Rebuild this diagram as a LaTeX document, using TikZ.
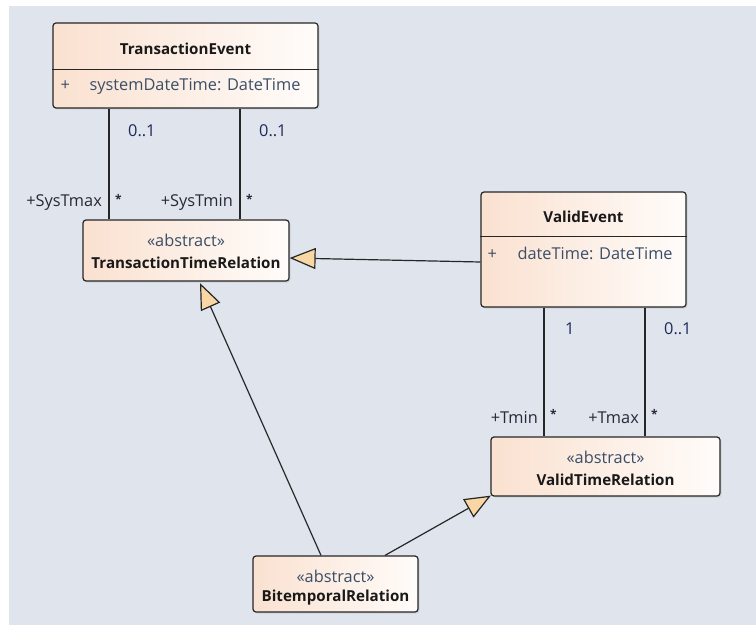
\documentclass[tikz,border=0pt]{standalone}
\usepackage{fontspec}
\setmainfont{Open Sans}
\usepackage{tikz}
\usetikzlibrary{calc}
\usetikzlibrary{shadows}
\usetikzlibrary{arrows.meta}
\definecolor{canvas}{RGB}{224,228,237}
\definecolor{peach}{RGB}{250,225,208}
\definecolor{cream}{RGB}{255,252,250}
\definecolor{trifill}{RGB}{249,215,164}
\definecolor{attrtext}{RGB}{58,78,104}
\definecolor{multtext}{RGB}{28,42,88}
\definecolor{roletext}{RGB}{40,40,56}

\begin{document}
\begin{tikzpicture}[x=1bp, y=-1bp,
  classbox/.style={draw=black!85, line width=1.2bp, rounded corners=3bp, inner sep=0pt,
    left color=peach, right color=cream,
    drop shadow={opacity=0.2, shadow xshift=1.5bp, shadow yshift=-1.5bp}},
  title/.style={font=\fontsize{15.2}{18}\selectfont\bfseries, text=black!90, inner sep=0pt},
  stereo/.style={font=\fontsize{16.4}{19}\selectfont, text=attrtext, inner sep=0pt},
  attr/.style={font=\fontsize{16.4}{19}\selectfont, text=attrtext, inner sep=0pt, anchor=west},
  mult/.style={font=\fontsize{16.4}{19}\selectfont, text=multtext, inner sep=0pt, anchor=west},
  role/.style={font=\fontsize{16.4}{19}\selectfont, text=roletext, inner sep=0pt, anchor=east},
  many/.style={font=\fontsize{12}{14}\selectfont\bfseries, text=roletext, inner sep=0pt, anchor=west},
  assoc/.style={draw=black!85, line width=1.2bp},
  gen/.style={draw=black!85, line width=1.2bp, -{Triangle[length=26bp, width=21bp, fill=trifill]}}]
  \useasboundingbox (0,0) rectangle (756,625);
  \fill[white] (0,0) rectangle (756,625);
  \fill[canvas] (9,6) rectangle (756,625);

  \node[classbox, minimum width=265bp, minimum height=85bp] (tevent) at (185.5,65.5) {};
  \draw[black!85, line width=1.2bp] ($(tevent.north west)+(0,47)$) -- ($(tevent.north east)+(0,47)$);
  \node[title] (tevent-name) at ($(tevent.north)+(0,26)$) {TransactionEvent};
  \node[attr] (tevent-attr) at ($(tevent.north west)+(8,64)$) {\makebox[29bp][l]{+}systemDateTime: DateTime};

  \node[classbox, minimum width=206bp, minimum height=61bp] (ttrel) at (186,250.5) {};
  \node[stereo] (ttrel-st) at ($(ttrel.north)+(0,21)$) {«abstract»};
  \node[title] (ttrel-name) at ($(ttrel.north)+(0,43)$) {TransactionTimeRelation};

  \node[classbox, minimum width=205bp, minimum height=115bp] (vevent) at (583.5,249.5) {};
  \draw[black!85, line width=1.2bp] ($(vevent.north west)+(0,45)$) -- ($(vevent.north east)+(0,45)$);
  \node[title] (vevent-name) at ($(vevent.north)+(0,25)$) {ValidEvent};
  \node[attr] (vevent-attr) at ($(vevent.north west)+(7,62)$) {\makebox[30bp][l]{+}dateTime: DateTime};

  \node[classbox, minimum width=229bp, minimum height=59bp] (vtrel) at (605.5,466.5) {};
  \node[stereo] (vtrel-st) at ($(vtrel.north)+(0,21)$) {«abstract»};
  \node[title] (vtrel-name) at ($(vtrel.north)+(0,43)$) {ValidTimeRelation};

  \node[classbox, minimum width=165bp, minimum height=56bp] (brel) at (335.5,584) {};
  \node[stereo] (brel-st) at ($(brel.north)+(0,21)$) {«abstract»};
  \node[title] (brel-name) at ($(brel.north)+(0,42)$) {BitemporalRelation};

  \coordinate (sysmax) at (109,0);
  \coordinate (sysmin) at (240,0);
  \coordinate (tmin) at (544,0);
  \coordinate (tmax) at (645,0);

  \draw[assoc] (tevent.south -| sysmax) -- (ttrel.north -| sysmax);
  \draw[assoc] (tevent.south -| sysmin) -- (ttrel.north -| sysmin);
  \draw[assoc] (vevent.south -| tmin) -- (vtrel.north -| tmin);
  \draw[assoc] (vevent.south -| tmax) -- (vtrel.north -| tmax);

  \node[mult] (sysmax-m) at ($(tevent.south -| sysmax)+(19,22)$) {0..1};
  \node[mult] (sysmin-m) at ($(tevent.south -| sysmin)+(19,22)$) {0..1};
  \node[mult] (tmin-m) at ($(vevent.south -| tmin)+(21,21)$) {1};
  \node[mult] (tmax-m) at ($(vevent.south -| tmax)+(19,21)$) {0..1};

  \node[role] (sysmax-r) at ($(ttrel.north -| sysmax)+(-7,-17)$) {+SysTmax};
  \node[role] (sysmin-r) at ($(ttrel.north -| sysmin)+(-7,-17)$) {+SysTmin};
  \node[role] (tmin-r) at ($(vtrel.north -| tmin)+(-6,-19)$) {+Tmin};
  \node[role] (tmax-r) at ($(vtrel.north -| tmax)+(-6,-19)$) {+Tmax};
  \node[many] (sysmax-s) at ($(ttrel.north -| sysmax)+(6,-20)$) {*};
  \node[many] (sysmin-s) at ($(ttrel.north -| sysmin)+(6,-20)$) {*};
  \node[many] (tmin-s) at ($(vtrel.north -| tmin)+(6,-22)$) {*};
  \node[many] (tmax-s) at ($(vtrel.north -| tmax)+(6,-22)$) {*};

  \draw[gen] ($(vevent.west)+(0,12.5)$) -- ($(ttrel.east)+(0,7.5)$);
  \draw[gen] ($(brel.north)+(-14.5,0)$) -- ($(ttrel.south)+(14,1.5)$);
  \draw[gen] ($(brel.north)+(49.5,0)$) -- ($(vtrel.south west)+(0.5,-1)$);
\end{tikzpicture}
\end{document}
